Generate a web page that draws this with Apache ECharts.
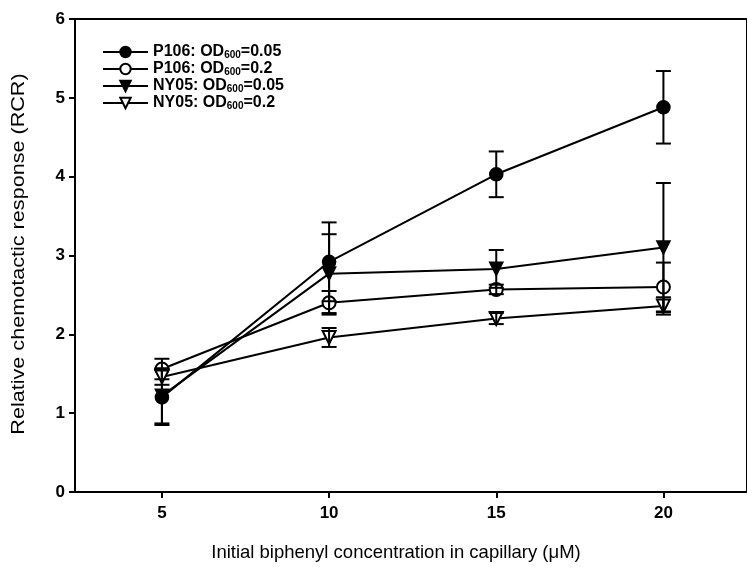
<!DOCTYPE html>
<html>
<head>
<meta charset="utf-8">
<script src="https://cdn.jsdelivr.net/npm/echarts@6/dist/echarts.min.js"></script>
<style>
  html, body { margin: 0; padding: 0; background: #fff; }
  #main { width: 747px; height: 567px; }
</style>
</head>
<body>
<div id="main"></div>
<script>
// biphenyl concentration (uM)
var conc = [5, 10, 15, 20];
var xTicks = [5, 10, 15, 20];

// RCR means and error (+/-)
var p106Low = [1.2, 2.92, 4.03, 4.88];
var p106LowErr = [0.35, 0.5, 0.29, 0.46];
var p106High = [1.56, 2.4, 2.57, 2.6];
var p106HighErr = [0.13, 0.15, 0.06, 0.31];
var ny05Low = [1.22, 2.77, 2.83, 3.1];
var ny05LowErr = [0.35, 0.5, 0.24, 0.82];
var ny05High = [1.46, 1.96, 2.2, 2.36];
var ny05HighErr = [0.1, 0.12, 0.07, 0.11];

var names = ['P106: OD600=0.05', 'P106: OD600=0.2', 'NY05: OD600=0.05', 'NY05: OD600=0.2'];

var font = '"Liberation Sans", Arial, sans-serif';
var myChart = echarts.init(document.getElementById('main'));

function pts(ys) {
    return conc.map(function (x, i) { return [x, ys[i]]; });
}
function errs(ys, es) {
    return conc.map(function (x, i) { return [x, ys[i] - es[i], ys[i] + es[i]]; });
}

function lineSeries(name, ys, symbol, rotate) {
    return {
        name: name,
        type: 'line',
        data: pts(ys),
        symbol: symbol,
        symbolSize: 13,
        symbolRotate: rotate,
        animation: false,
        z: 2,
        itemStyle: { color: '#000', borderColor: '#000', borderWidth: 1.6 },
        lineStyle: { color: '#000', width: 2 }
    };
}

function errSeries(ys, es) {
    return {
        type: 'custom',
        data: errs(ys, es),
        silent: true,
        animation: false,
        z: 3,
        renderItem: function (params, api) {
            var x = api.value(0);
            var lo = api.coord([x, api.value(1)]);
            var hi = api.coord([x, api.value(2)]);
            var w = 7.5;
            var st = { stroke: '#000', lineWidth: 2 };
            return {
                type: 'group',
                children: [
                    { type: 'line', shape: { x1: lo[0], y1: lo[1], x2: hi[0], y2: hi[1] }, style: st },
                    { type: 'line', shape: { x1: lo[0] - w, y1: lo[1], x2: lo[0] + w, y2: lo[1] }, style: st },
                    { type: 'line', shape: { x1: hi[0] - w, y1: hi[1], x2: hi[0] + w, y2: hi[1] }, style: st }
                ]
            };
        }
    };
}

myChart.setOption({
    backgroundColor: '#fff',
    animation: false,
    grid: {
        left: 75,
        top: 19,
        bottom: 74,
        right: -10,
        show: true,
        borderColor: '#000',
        borderWidth: 2
    },
    // y title, a bit stretched like the scan
    graphic: [{
        type: 'text',
        x: 19,
        y: 254,
        rotation: Math.PI / 2,
        scaleX: 1.2,
        style: {
            text: 'Relative chemotactic response (RCR)',
            fontFamily: font,
            fontSize: 18,
            fill: '#000',
            align: 'center',
            verticalAlign: 'middle'
        }
    }],
    legend: {
        orient: 'vertical',
        left: 97,
        top: 39,
        itemWidth: 45,
        itemHeight: 13,
        itemGap: 1,
        data: names,
        formatter: function (n) {
            var m = n.match(/^(.*OD)600(=.*)$/);
            return '{t|' + m[1] + '}{s|600}{t|' + m[2] + '}';
        },
        textStyle: {
            rich: {
                t: { fontFamily: font, fontSize: 16, fontWeight: 'bold', color: '#000', lineHeight: 16 },
                s: { fontFamily: font, fontSize: 10, fontWeight: 'bold', color: '#000', lineHeight: 16, padding: [6, 0, 0, 0] }
            }
        }
    },
    xAxis: {
        type: 'value',
        min: 2.4,
        max: 22.5,
        splitLine: { show: false },
        axisLine: { onZero: false, lineStyle: { color: '#000', width: 2 } },
        axisTick: { customValues: xTicks, length: 6, lineStyle: { color: '#000', width: 2 } },
        axisLabel: { customValues: xTicks, color: '#000', fontFamily: font, fontSize: 17, fontWeight: 'bold', margin: 13 },
        name: 'Initial biphenyl concentration in capillary (\u03bcM)',
        nameLocation: 'middle',
        nameGap: 51,
        nameTextStyle: { color: '#000', fontFamily: font, fontSize: 18.5, padding: [0, 30, 0, 0] }
    },
    yAxis: {
        type: 'value',
        min: 0,
        max: 6,
        interval: 1,
        splitLine: { show: false },
        axisLine: { lineStyle: { color: '#000', width: 2 } },
        axisTick: { length: 6, lineStyle: { color: '#000', width: 2 } },
        axisLabel: { color: '#000', fontFamily: font, fontSize: 17, fontWeight: 'bold', margin: 10 }
    },
    series: [
        lineSeries(names[0], p106Low, 'circle', 0),
        lineSeries(names[1], p106High, 'emptyCircle', 0),
        lineSeries(names[2], ny05Low, 'triangle', 180),
        lineSeries(names[3], ny05High, 'emptyTriangle', 180),
        errSeries(p106Low, p106LowErr),
        errSeries(p106High, p106HighErr),
        errSeries(ny05Low, ny05LowErr),
        errSeries(ny05High, ny05HighErr)
    ]
});
</script>
</body>
</html>
